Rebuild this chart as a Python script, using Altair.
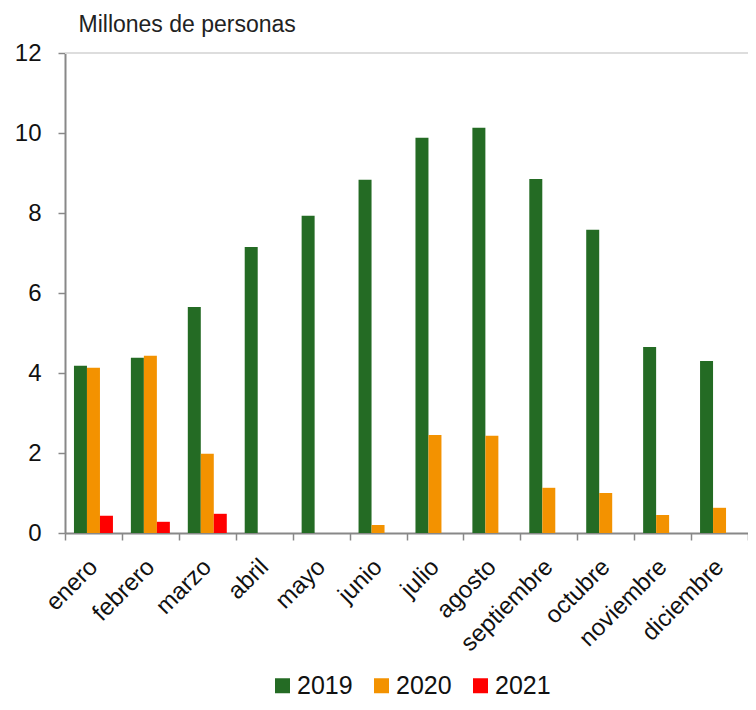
import altair as alt
import pandas as pd

months = ["enero", "febrero", "marzo", "abril", "mayo", "junio", "julio",
          "agosto", "septiembre", "octubre", "noviembre", "diciembre"]
v2019 = [4.18, 4.38, 5.65, 7.15, 7.93, 8.83, 9.88, 10.13, 8.85, 7.58, 4.65, 4.30]
v2020 = [4.13, 4.43, 1.98, None, None, 0.20, 2.45, 2.43, 1.13, 1.00, 0.45, 0.63]
v2021 = [0.43, 0.28, 0.48, None, None, None, None, None, None, None, None, None]
years = ["2019", "2020", "2021"]
colors = ["#246b24", "#f39200", "#ff0000"]
y_ticks = [0, 2, 4, 6, 8, 10, 12]
top_line = [12]

rows = []
for yr, vals in zip(years, [v2019, v2020, v2021]):
    for m, v in zip(months, vals):
        if v is not None:
            rows.append({"mes": m, "anio": yr, "valor": v})
df = pd.DataFrame(rows)
top_df = pd.DataFrame({"v": top_line})

FONT = "Liberation Sans"

bars = alt.Chart(df).mark_bar().encode(
    x=alt.X("mes:N", sort=months,
            scale=alt.Scale(paddingInner=0, paddingOuter=0),
            axis=alt.Axis(title=None, labelAngle=-45, labelAlign="right",
                          labelBaseline="middle", labelFontSize=24,
                          labelPadding=23, labelColor="#111",
                          tickBand="extent", tickSize=7, tickColor="#888",
                          tickWidth=1.5, domainColor="#888", domainWidth=2,
                          labelFont=FONT, labelOverlap=False)),
    xOffset=alt.XOffset("anio:N", sort=years,
                        scale=alt.Scale(paddingInner=0, paddingOuter=0.69)),
    y=alt.Y("valor:Q",
            scale=alt.Scale(domain=[0, 12], nice=False),
            axis=alt.Axis(values=y_ticks, grid=False, title="Millones de personas",
                          titleAngle=0, titleAlign="left", titleBaseline="alphabetic",
                          titleX=13, titleY=-22, titleFontSize=23,
                          titleFontWeight="normal", titleColor="#222",
                          titleFont=FONT, labelFont=FONT,
                          labelFontSize=24, labelColor="#111", labelPadding=17,
                          tickSize=7, tickColor="#888", tickWidth=1.5,
                          domainColor="#888", domainWidth=2)),
    color=alt.Color("anio:N", sort=years,
                    scale=alt.Scale(domain=years, range=colors),
                    legend=alt.Legend(title=None, orient="none", direction="horizontal",
                                      legendX=205, legendY=620,
                                      symbolType="square", symbolSize=225,
                                      symbolStrokeWidth=0, labelFontSize=25,
                                      labelFont=FONT, labelColor="#111",
                                      columnPadding=16, labelOffset=2)),
)

rule = alt.Chart(top_df).mark_rule(color="#dddddd", strokeWidth=2).encode(
    y=alt.Y("v:Q")
)

chart = alt.layer(rule, bars).properties(
    width=683, height=480,
    autosize=alt.AutoSizeParams(type="none"),
    padding={"left": 57, "top": 45, "right": 0, "bottom": 168},
).configure_view(stroke=None)

chart.save("out.html", embed_options={"renderer": "svg", "actions": False})
